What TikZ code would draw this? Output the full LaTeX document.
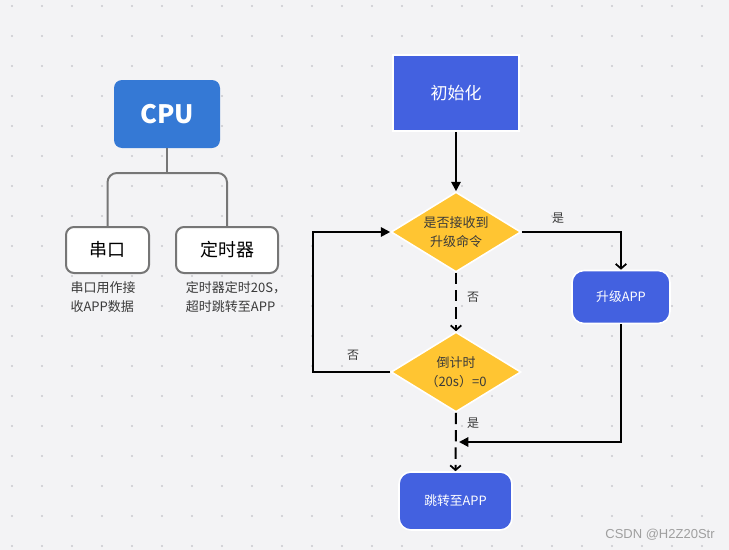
\documentclass[tikz,border=0pt]{standalone}
\usepackage{fontspec}
\setmainfont{Noto Sans CJK SC}
\newfontfamily\markfont{Liberation Sans}
\usetikzlibrary{shapes.geometric,arrows.meta}

% Colours of the board
\definecolor{boardGray}{HTML}{F3F3F5}
\definecolor{dotGray}{HTML}{CACACE}
\definecolor{cpuBlue}{HTML}{3579D5}
\definecolor{stepBlue}{HTML}{4361E0}
\definecolor{askYellow}{HTML}{FFC532}
\definecolor{treeGray}{HTML}{767676}
\definecolor{textDark}{HTML}{3A3A3A}

\tikzset{
  cpubox/.style={rectangle, rounded corners=6pt, fill=cpuBlue, text=white,
    minimum width=79.5pt, minimum height=51pt, font=\fontsize{19}{22}\selectfont\bfseries},
  partbox/.style={rectangle, rounded corners=6pt, draw=treeGray, line width=1.5pt,
    fill=white, minimum height=34.5pt, font=\fontsize{13.5}{16}\selectfont},
  treeline/.style={draw=treeGray, line width=1.5pt},
  note/.style={align=left, text=textDark, font=\fontsize{9.75}{14.5}\selectfont},
  stepbox/.style={rectangle, rounded corners=9pt, fill=stepBlue, draw=white,
    line width=1.2pt, text=white, font=\fontsize{9.6}{12}\selectfont},
  askbox/.style={diamond, aspect=1.625, fill=askYellow, draw=white, line width=1.2pt,
    inner sep=0pt, minimum width=97.5pt, minimum height=60pt, align=center,
    text=textDark, font=\fontsize{9.75}{14.5}\selectfont},
  flow/.style={draw=black, line width=1.5pt},
  flowdash/.style={flow, dash pattern=on 8.5pt off 4.5pt},
  fill tip/.style={-{Triangle[length=7pt,width=7pt]}},
  open tip/.style={-{Straight Barb[length=3.5pt,width=8pt,line width=1.3pt]}},
  answer/.style={text=textDark, font=\fontsize{9}{11}\selectfont}
}

\begin{document}
\begin{tikzpicture}[x=0.75pt, y=-0.75pt]

% Board with its dot grid
\useasboundingbox (0,0) rectangle (729,550);
\fill[boardGray] (0,0) rectangle (729,550);
\foreach \x in {12,42,...,732}
  \foreach \y in {6,36,...,546}
    \fill[dotGray] (\x,\y) circle (0.8pt);

% Left part: the CPU and its two parts
\node[cpubox] (cpu) at (167,114) {CPU};
\node[partbox, minimum width=62.25pt] (uart) at (107.5,250) {串口};
\node[partbox, minimum width=76.5pt] (timer) at (227,250) {定时器};
\coordinate (bus) at (167,173);

\draw[treeline] (cpu.south) -- (bus);
\draw[treeline, rounded corners=7pt] (uart.north) -- (uart.north |- bus)
  -- (timer.north |- bus) -- (timer.north);

% Notes under the parts
\node[note] (uartnote) at (103,297) {串口用作接\\收APP数据};
\node[note] (timernote) at (236,297) {定时器定时20S，\\超时跳转至APP};

% Right part: the flow chart
\node[rectangle, fill=stepBlue, draw=white, line width=1.2pt, text=white,
  minimum width=94.5pt, minimum height=57pt, font=\fontsize{12.75}{15}\selectfont]
  (init) at (456,93) {初始化};
\node[askbox] (askcmd) at (456,232) {是否接收到\\升级命令};
\node[askbox] (asktime) at (456,372) {倒计时\\（20s）=0};
\node[stepbox, minimum width=73.5pt, minimum height=39.75pt] (upgrade) at (621,297) {升级APP};
\node[stepbox, minimum width=84.75pt, minimum height=43.5pt] (jump) at (455.5,501) {跳转至APP};
\coordinate (merge) at (459,442);
\coordinate (loop) at (313,300);

% Connectors
\draw[flow, fill tip] (init.south) -- (askcmd.north);
\draw[flow, open tip] (askcmd.east) -| (upgrade.north);
\draw[flowdash, open tip] (askcmd.south) -- (asktime.north);
\draw[flow, fill tip] (asktime.west) -- (asktime.west -| loop)
  -- (askcmd.west -| loop) -- (askcmd.west);
\draw[flow, fill tip] (upgrade.south) |- (merge);
\draw[flowdash, open tip] (asktime.south) -- (jump.north);

% Answers on the connectors
\node[answer] (yescmd) at (558,218) {是};
\node[answer] (nocmd) at (473,297) {否};
\node[answer] (notime) at (353,355) {否};
\node[answer] (yestime) at (473,423) {是};

% Watermark
\node[text=gray!75, font=\markfont\fontsize{9.75}{12}\selectfont] (mark) at (660,535) {CSDN @H2Z20Str};

\end{tikzpicture}
\end{document}
